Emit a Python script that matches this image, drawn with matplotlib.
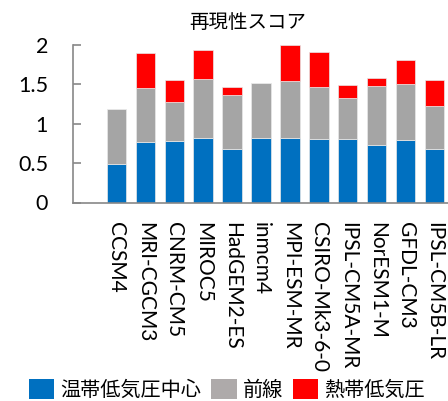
import matplotlib
matplotlib.use("Agg")
import matplotlib.pyplot as plt
import numpy as np
from matplotlib.patches import Patch

models = ["CCSM4", "MRI-CGCM3", "CNRM-CM5", "MIROC5", "HadGEM2-ES", "inmcm4",
          "MPI-ESM-MR", "CSIRO-Mk3-6-0", "IPSL-CM5A-MR", "NorESM1-M",
          "GFDL-CM3", "IPSL-CM5B-LR"]
extratropical = [0.49, 0.77, 0.78, 0.82, 0.68, 0.82, 0.82, 0.81, 0.80, 0.73, 0.79, 0.68]
front = [0.69, 0.68, 0.49, 0.74, 0.68, 0.69, 0.72, 0.65, 0.52, 0.75, 0.71, 0.54]
tropical = [0.01, 0.44, 0.28, 0.37, 0.10, 0.01, 0.45, 0.45, 0.17, 0.10, 0.31, 0.33]
series_names = ["温帯低気圧中心", "前線", "熱帯低気圧"]
y_ticks = [0, 0.5, 1, 1.5, 2]
y_tick_labels = ["0", "0.5", "1", "1.5", "2"]
title = "再現性スコア"

colors = ["#0070C0", "#A5A5A5", "#FF0000"]
jp = ["Noto Sans CJK JP", "DejaVu Sans"]
latin = ["Lato", "DejaVu Sans"]

fig = plt.figure(figsize=(4.48, 4.01), dpi=100)
ax = fig.add_axes([73 / 448, 1 - 202.5 / 401, (449 - 73) / 448, (202.5 - 44.7) / 401])

x = np.arange(len(models))
bottom = np.zeros(len(models))
for vals, col in zip([extratropical, front, tropical], colors):
    ax.bar(x, vals, width=0.67, bottom=bottom, color=col,
           edgecolor="#e8e8e8", linewidth=0.5, zorder=2)
    bottom = bottom + np.array(vals)

ax.set_xlim(-1.5, len(models) - 0.5)
ax.set_ylim(0, 2)
ax.set_yticks(y_ticks)
ax.set_yticklabels(y_tick_labels, fontfamily=latin, fontsize=15.5)
ax.set_xticks(x)
ax.set_xticklabels(models, rotation=270, fontfamily=latin, fontsize=15,
                   ha="center", va="top")
ax.tick_params(axis="y", direction="in", length=6, width=1.2, color="#888888", pad=18)
ax.tick_params(axis="x", length=0, pad=14)

for s in ["top", "right"]:
    ax.spines[s].set_visible(False)
ax.spines["left"].set_color("#888888")
ax.spines["left"].set_linewidth(1.2)
ax.spines["bottom"].set_color("#888888")
ax.spines["bottom"].set_linewidth(1.2)

fig.text(248 / 448, 1 - 22 / 401, title, fontfamily=jp, fontsize=14,
         ha="center", va="center")

handles = [Patch(facecolor=c, edgecolor="none") for c in ["#0070C0", "#AEAAAA", "#FF0000"]]
fig.legend(handles, series_names, loc="center", bbox_to_anchor=(227 / 448, 1 - 390 / 401),
           ncol=3, frameon=False, prop={"family": jp, "size": 14.5},
           handlelength=1.25, handleheight=1.1, handletextpad=0.3,
           columnspacing=0.5, borderaxespad=0, borderpad=0)

fig.savefig("out.png", dpi=100)
